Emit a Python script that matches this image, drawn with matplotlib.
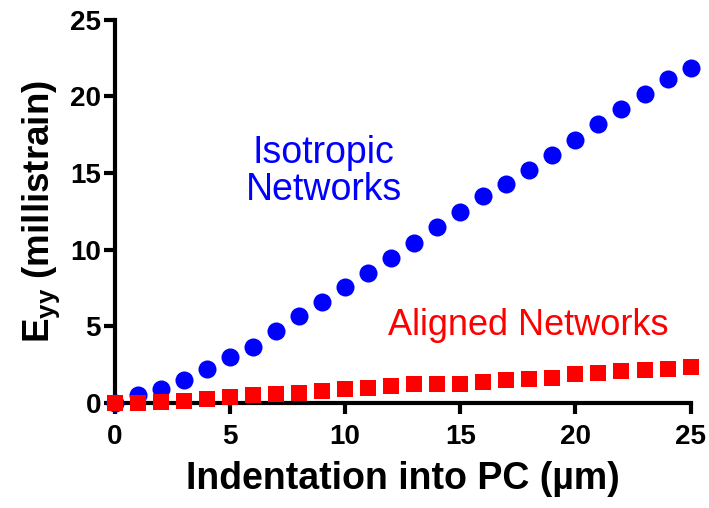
import matplotlib
matplotlib.use('Agg')
import matplotlib.pyplot as plt

plt.rcParams['font.family'] = ['Liberation Sans', 'DejaVu Sans']
plt.rcParams['mathtext.fontset'] = 'custom'
plt.rcParams['mathtext.rm'] = 'Liberation Sans'
plt.rcParams['mathtext.bf'] = 'Liberation Sans:bold'

# indentation (um)
x = list(range(26))
# isotropic networks, Eyy (millistrain)
iso = [0.0, 0.5, 0.93, 1.48, 2.2, 2.96, 3.65, 4.67, 5.65, 6.59, 7.54, 8.48, 9.46,
       10.46, 11.48, 12.46, 13.48, 14.28, 15.17, 16.17, 17.17, 18.17, 19.17,
       20.17, 21.15, 21.87]
# aligned networks
ali = [0.0, 0.0, 0.07, 0.13, 0.28, 0.39, 0.5, 0.6, 0.67, 0.78, 0.89, 1.0, 1.09,
       1.2, 1.26, 1.26, 1.37, 1.48, 1.54, 1.63, 1.87, 1.98, 2.07, 2.17, 2.24, 2.35]
ticks = [0, 5, 10, 15, 20, 25]

fig = plt.figure(figsize=(7.09, 5.08), dpi=100)
ax = fig.add_axes([0.162, 0.207, 0.812, 0.754])

ax.plot(x, iso, 'o', color='#0000ff', markersize=13, markeredgewidth=0, clip_on=False, zorder=3)
ax.plot(x, ali, 's', color='#ff0000', markersize=12, markeredgewidth=0, clip_on=False, zorder=4)

ax.set_xlim(0, 25)
ax.set_ylim(0, 25)
ax.set_xticks(ticks)
ax.set_yticks(ticks)
for s in ['top', 'right']:
    ax.spines[s].set_visible(False)
for s in ['left', 'bottom']:
    ax.spines[s].set_linewidth(3)
ax.tick_params(width=3, length=8, labelsize=20)
ax.tick_params(axis='x', pad=7)
ax.tick_params(axis='y', pad=2)
for lab in ax.get_xticklabels() + ax.get_yticklabels():
    lab.set_fontweight('bold')

ax.set_xlabel('Indentation into PC (µm)', fontsize=27, fontweight='bold', labelpad=8)
ax.set_ylabel(r'$\mathbf{E}_{\mathbf{yy}}$ (millistrain)', fontsize=26.5, fontweight='bold', labelpad=6)

ax.text(9.07, 15.08, 'Isotropic\nNetworks', color='#0000ff', fontsize=27,
        ha='center', va='center', linespacing=1.05)
ax.text(17.97, 5.03, 'Aligned Networks', color='#ff0000', fontsize=26,
        ha='center', va='center')

fig.savefig('out.png', dpi=100)
